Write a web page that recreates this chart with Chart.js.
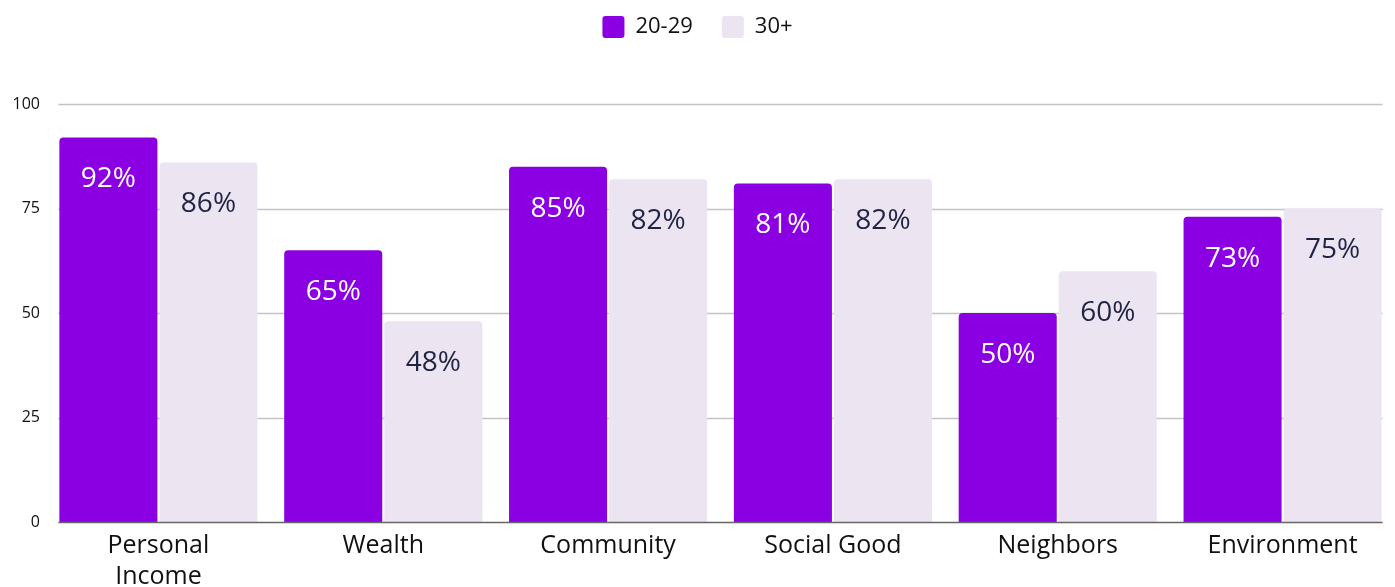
<!DOCTYPE html>
<html lang="en">
<head>
  <meta charset="UTF-8">
  <title>Age groups chart</title>
  <script src="https://cdn.jsdelivr.net/npm/chart.js"></script>
  <style>
    html, body {
      margin: 0;
      padding: 0;
      background: #ffffff;
      overflow: hidden;
    }
    .chart-box {
      width: 1395px;
      height: 587px;
      position: relative;
    }
  </style>
</head>
<body>
  <div class="chart-box">
    <canvas id="barChart"></canvas>
  </div>

  <script>
    // Chart data
    const categories = [["Personal", "Income"], "Wealth", "Community", "Social Good", "Neighbors", "Environment"];
    const seriesNames = ["20-29", "30+"];
    const young = [92, 65, 85, 81, 50, 73];
    const older = [86, 48, 82, 82, 60, 75];
    const yTicks = [0, 25, 50, 75, 100];

    const purple = "rgb(138, 0, 226)";
    const lilac = "rgb(237, 228, 242)";
    const fontName = "'Open Sans', 'DejaVu Sans', sans-serif";

    // extra room under the legend
    const legendGap = {
      id: "legendGap",
      beforeInit(chart) {
        const fit = chart.legend.fit;
        chart.legend.fit = function () {
          fit.bind(chart.legend)();
          this.height += 56;
        };
      }
    };

    // grid lines only across the bar groups, plus the dark base line
    function barSpan(chart) {
      const first = chart.getDatasetMeta(0).data[0];
      const last = chart.getDatasetMeta(1).data[categories.length - 1];
      return [first.x - first.width / 2 - 1, last.x + last.width / 2 + 1];
    }

    const gridLines = {
      id: "gridLines",
      beforeDatasetsDraw(chart) {
        const ctx = chart.ctx;
        const y = chart.scales.y;
        const [left, right] = barSpan(chart);
        ctx.save();
        ctx.strokeStyle = "#c4c4c4";
        ctx.lineWidth = 1.5;
        yTicks.forEach(t => {
          if (t === 0) return;
          const py = Math.round(y.getPixelForValue(t)) + 0.5;
          ctx.beginPath();
          ctx.moveTo(left, py);
          ctx.lineTo(right, py);
          ctx.stroke();
        });
        ctx.restore();
      },
      afterDatasetsDraw(chart) {
        const ctx = chart.ctx;
        const y = chart.scales.y;
        const [left, right] = barSpan(chart);
        ctx.save();
        ctx.strokeStyle = "#666666";
        ctx.lineWidth = 1.5;
        const py = y.getPixelForValue(0) + 0.5;
        ctx.beginPath();
        ctx.moveTo(left, py);
        ctx.lineTo(right, py);
        ctx.stroke();
        ctx.restore();
      }
    };

    // value labels inside the top of each bar
    const valueLabels = {
      id: "valueLabels",
      afterDatasetsDraw(chart) {
        const ctx = chart.ctx;
        ctx.save();
        ctx.font = "28px " + fontName;
        ctx.textAlign = "center";
        ctx.textBaseline = "middle";
        chart.data.datasets.forEach((ds, i) => {
          ctx.fillStyle = i === 0 ? "#ffffff" : "#1f2444";
          chart.getDatasetMeta(i).data.forEach((bar, j) => {
            ctx.fillText(ds.data[j] + "%", bar.x, bar.y + 42);
          });
        });
        ctx.restore();
      }
    };

    const barChart = new Chart(document.getElementById("barChart"), {
      type: "bar",
      data: {
        labels: categories,
        datasets: [
          {
            label: seriesNames[0],
            data: young,
            backgroundColor: purple,
            borderRadius: { topLeft: 4, topRight: 4 },
            borderSkipped: "bottom"
          },
          {
            label: seriesNames[1],
            data: older,
            backgroundColor: lilac,
            borderRadius: { topLeft: 4, topRight: 4 },
            borderSkipped: "bottom"
          }
        ]
      },
      options: {
        responsive: true,
        maintainAspectRatio: false,
        animation: false,
        categoryPercentage: 0.89,
        barPercentage: 0.98,
        layout: {
          padding: { top: -13, right: 0, bottom: 0, left: 0 }
        },
        plugins: {
          legend: {
            position: "top",
            labels: {
              boxWidth: 22,
              boxHeight: 22,
              padding: 29,
              useBorderRadius: true,
              borderRadius: 3,
              color: "#111111",
              font: { family: fontName, size: 22 }
            }
          },
          tooltip: { enabled: false }
        },
        scales: {
          x: {
            grid: { display: false, drawTicks: false },
            border: { display: false },
            ticks: {
              color: "#111111",
              padding: 8,
              maxRotation: 0,
              font: { family: fontName, size: 25, lineHeight: 1.25 }
            },
            afterFit(scale) { scale.height = 65; }
          },
          y: {
            min: 0,
            max: 100,
            grid: { display: false, drawTicks: false },
            border: { display: false },
            ticks: {
              stepSize: 25,
              padding: 6,
              color: "#111111",
              font: { family: fontName, size: 16 }
            },
            afterFit(scale) { scale.width = 46; }
          }
        }
      },
      plugins: [legendGap, gridLines, valueLabels]
    });
  </script>
</body>
</html>
